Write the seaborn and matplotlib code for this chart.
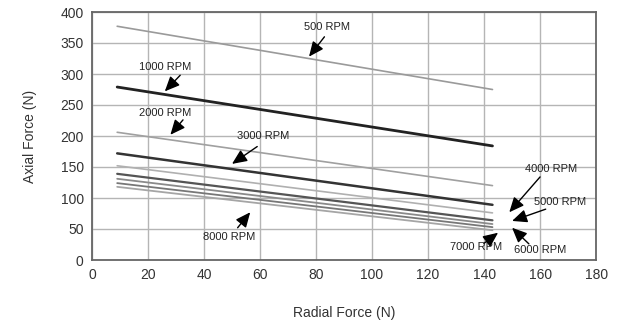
import matplotlib
matplotlib.use("Agg")
import matplotlib.pyplot as plt
import seaborn as sns
import pandas as pd

radial = [9, 143]
rpm_labels = ["500 RPM", "1000 RPM", "2000 RPM", "3000 RPM", "4000 RPM",
              "5000 RPM", "6000 RPM", "7000 RPM", "8000 RPM"]
axial_start = [377, 279, 206, 172, 152, 139, 131, 124, 118]
axial_end = [275, 184, 120, 89, 76, 64, 58, 53, 48]
line_colors = ["#9a9a9a", "#222222", "#a0a0a0", "#333333", "#b0b0b0",
               "#555555", "#8a8a8a", "#777777", "#a5a5a5"]
line_widths = [1.2, 2.0, 1.2, 1.8, 1.2, 1.6, 1.3, 1.3, 1.3]

# annotation text positions, arrow tails and arrow tips (data coords)
ann_text_xy = [(84, 376), (26, 311), (26, 237), (61, 200), (164, 147),
               (167, 93), (160, 16), (137, 21), (49, 37)]
ann_tail_xy = [(83, 360), (31.5, 298), (32.5, 226), (59, 183), (160, 134),
               (162, 82), (156, 26), (140, 27), (52, 52)]
ann_tip_xy = [(77.5, 328), (26, 272), (28, 202), (50, 155), (149, 77),
              (150, 63), (150, 52), (145, 44), (56.5, 77)]

x_ticks = [0, 20, 40, 60, 80, 100, 120, 140, 160, 180]
y_ticks = [0, 50, 100, 150, 200, 250, 300, 350, 400]

rows = []
for lab, s, e in zip(rpm_labels, axial_start, axial_end):
    rows.append({"rpm": lab, "radial": radial[0], "axial": s})
    rows.append({"rpm": lab, "radial": radial[1], "axial": e})
df = pd.DataFrame(rows)

sns.set_style("white")
plt.rcParams["font.family"] = ["Liberation Sans", "DejaVu Sans"]

fig = plt.figure(figsize=(6.19, 3.2), dpi=100)
ax = fig.add_axes([0.1486, 0.1875, 0.8144, 0.775])

for i, lab in enumerate(rpm_labels):
    sub = df[df["rpm"] == lab]
    sns.lineplot(data=sub, x="radial", y="axial", ax=ax, color=line_colors[i],
                 linewidth=line_widths[i], legend=False, zorder=3)

for i, lab in enumerate(rpm_labels):
    tx, ty = ann_text_xy[i]
    ax.text(tx, ty, lab, ha="center", va="center", fontsize=8,
            color="#222222", zorder=5)
    ax.annotate("", xy=ann_tip_xy[i], xytext=ann_tail_xy[i], zorder=5,
                arrowprops=dict(arrowstyle="-|>,head_length=0.9,head_width=0.4",
                                color="black", lw=1.0, shrinkA=0, shrinkB=0))

ax.set_xlim(0, 180)
ax.set_ylim(0, 400)
ax.set_xticks(x_ticks)
ax.set_yticks(y_ticks)
ax.grid(True, color="#b5b5b5", linewidth=1.0, zorder=0)
ax.set_axisbelow(True)
for sp in ax.spines.values():
    sp.set_color("#666666")
    sp.set_linewidth(1.3)
ax.tick_params(direction="inout", length=8, width=1.0, color="#555555",
               labelsize=10, labelcolor="#333333", pad=2)
ax.set_xlabel("Radial Force (N)", fontsize=10, color="#333333", labelpad=17)
ax.set_ylabel("Axial Force (N)", fontsize=10, color="#333333", labelpad=17)

fig.savefig("out.png", dpi=100)
